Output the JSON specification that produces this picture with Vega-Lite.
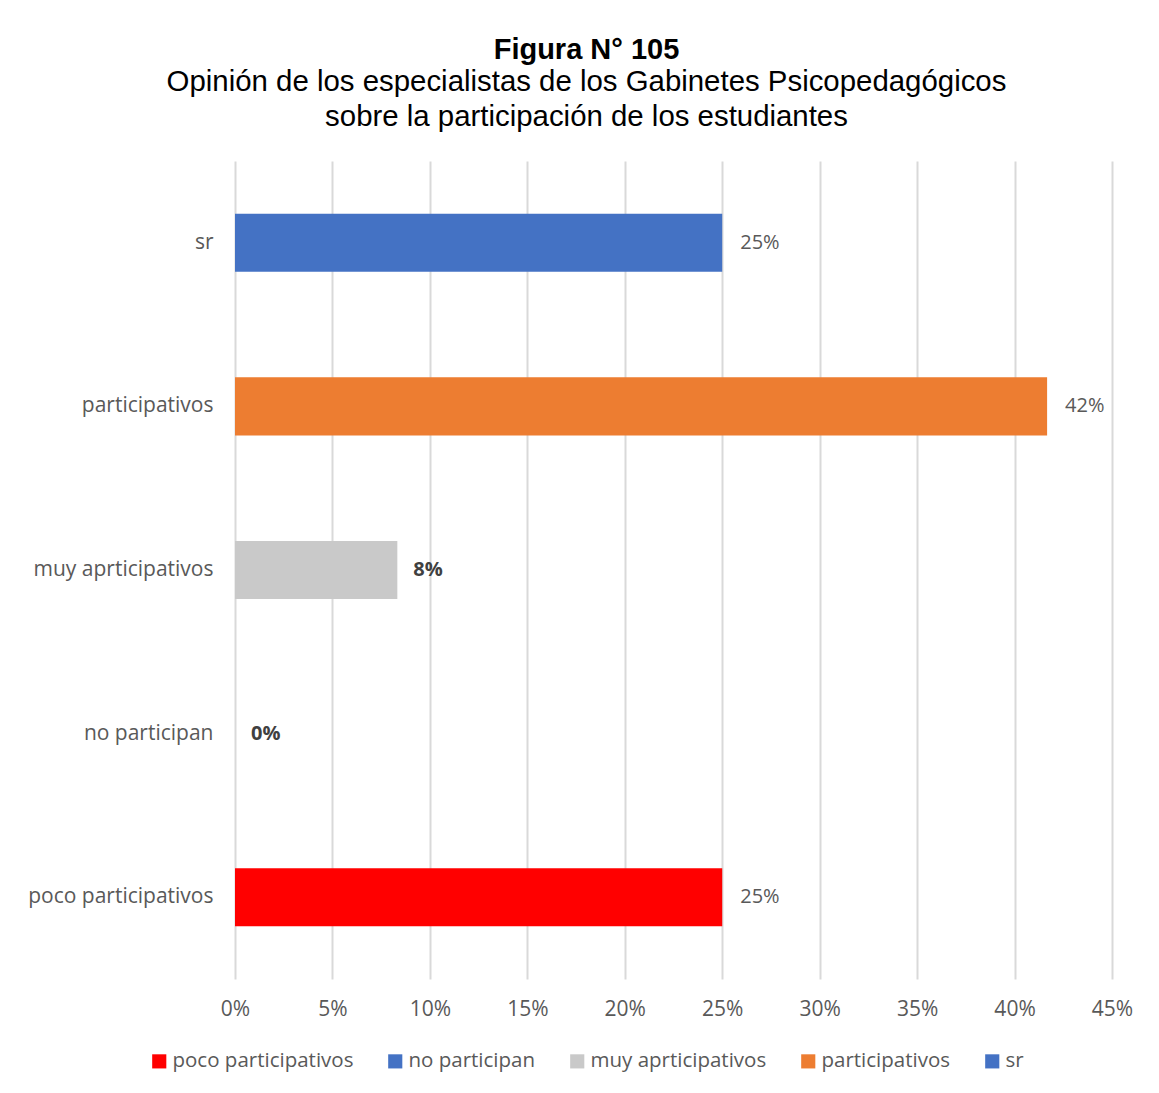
{
  "$schema": "https://vega.github.io/schema/vega-lite/v6.json",
  "autosize": "none",
  "width": 877,
  "height": 818,
  "padding": {"left": 235, "top": 161, "right": 47, "bottom": 114},
  "background": "white",
  "title": {
    "text": "Figura N° 105",
    "subtitle": ["Opinión de los especialistas de los Gabinetes Psicopedagógicos", "sobre la participación de los estudiantes"],
    "font": "Liberation Sans",
    "fontSize": 29,
    "fontWeight": "bold",
    "color": "#000000",
    "subtitleFont": "Liberation Sans",
    "subtitleFontSize": 29.4,
    "subtitleColor": "#000000",
    "subtitleLineHeight": 35,
    "subtitlePadding": 3,
    "anchor": "middle",
    "dx": -87,
    "offset": 30
  },
  "data": {
    "values": [
      {"categoria": "sr", "valor": 0.25},
      {"categoria": "participativos", "valor": 0.4167},
      {"categoria": "muy aprticipativos", "valor": 0.0833},
      {"categoria": "no participan", "valor": 0},
      {"categoria": "poco participativos", "valor": 0.25}
    ]
  },
  "encoding": {
    "y": {
      "field": "categoria",
      "type": "nominal",
      "sort": ["sr", "participativos", "muy aprticipativos", "no participan", "poco participativos"],
      "scale": {"paddingInner": 0.645, "paddingOuter": 0.3225},
      "axis": {
        "title": null,
        "domain": false,
        "ticks": false,
        "labelPadding": 22,
        "labelFont": "Open Sans",
        "labelFontSize": 21,
        "labelColor": "#595959",
        "labelLimit": 0
      }
    },
    "x": {
      "field": "valor",
      "type": "quantitative",
      "scale": {"domain": [0, 0.45]},
      "axis": {
        "title": null,
        "format": ".0%",
        "values": [0, 0.05, 0.1, 0.15, 0.2, 0.25, 0.3, 0.35, 0.4, 0.45],
        "domain": false,
        "ticks": false,
        "grid": true,
        "gridColor": "#D9D9D9",
        "gridWidth": 2,
        "labelFlush": false,
        "labelPadding": 19,
        "labelFont": "Open Sans",
        "labelFontSize": 21,
        "labelColor": "#595959"
      }
    }
  },
  "layer": [
    {
      "mark": {"type": "bar"},
      "encoding": {
        "color": {
          "field": "categoria",
          "type": "nominal",
          "scale": {
            "domain": ["poco participativos", "no participan", "muy aprticipativos", "participativos", "sr"],
            "range": ["#FF0000", "#4472C4", "#C9C9C9", "#ED7D31", "#4472C4"]
          },
          "legend": {
            "title": null,
            "orient": "none",
            "direction": "horizontal",
            "legendX": -86,
            "legendY": 890,
            "symbolType": "square",
            "symbolSize": 200,
            "symbolStrokeWidth": 0,
            "symbolOpacity": 1,
            "labelFont": "Open Sans",
            "labelFontSize": 20.5,
            "labelColor": "#595959",
            "labelOffset": 3,
            "labelLimit": 0,
            "columnPadding": 31,
            "symbolOffset": 0
          }
        }
      }
    },
    {
      "transform": [{"filter": "datum.valor >= 0.2"}],
      "mark": {"type": "text", "align": "left", "baseline": "middle", "dx": 18, "font": "Open Sans", "fontSize": 20, "color": "#595959"},
      "encoding": {"text": {"field": "valor", "type": "quantitative", "format": ".0%"}}
    },
    {
      "transform": [{"filter": "datum.valor < 0.2"}],
      "mark": {"type": "text", "align": "left", "baseline": "middle", "dx": 16, "font": "Open Sans", "fontSize": 20, "fontWeight": "bold", "color": "#404040"},
      "encoding": {"text": {"field": "valor", "type": "quantitative", "format": ".0%"}}
    }
  ],
  "config": {"view": {"stroke": null}}
}
